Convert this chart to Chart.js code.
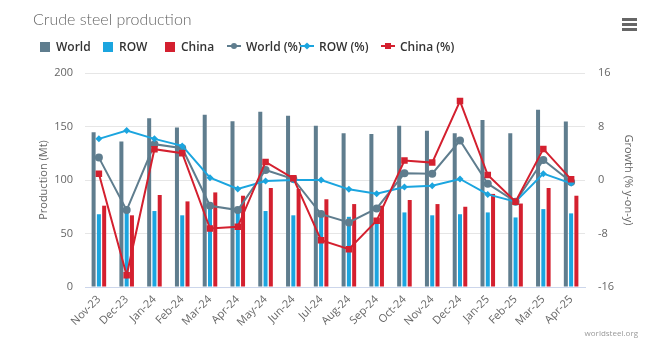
<!DOCTYPE html>
<html>
<head>
<meta charset="utf-8">
<script src="https://cdn.jsdelivr.net/npm/chart.js@4"></script>
<style>
  body { margin: 0; background: #fff; font-family: 'Open Sans', sans-serif; }
  #wrap { position: relative; width: 655px; height: 353px; }
  #title { position: absolute; left: 33px; top: 9px; font-family: Lato, sans-serif; font-size: 16px; font-weight: 300; color: #666; }
  #menu { position: absolute; left: 622px; top: 18px; width: 15px; }
  #menu div { height: 2.5px; background: #666; margin-bottom: 2.5px; }
  #legend { position: absolute; left: 40px; top: 39px; font-size: 12px; font-weight: 600; color: #333; white-space: nowrap; }
  .item { position: absolute; top: 0; line-height: 16px; }
  .sw { display: inline-block; width: 10px; height: 10px; vertical-align: -1px; margin-right: 6px; }
  .ln { display: inline-block; width: 14px; height: 2px; vertical-align: 4px; margin-right: 5px; position: relative; }
  .ln span { position: absolute; left: 4px; top: -2px; width: 6px; height: 6px; }
  #credit { position: absolute; right: 17px; top: 327px; font-size: 8px; color: #999; }
  canvas { position: absolute; left: 0; top: 0; }
</style>
</head>
<body>
<div id="wrap">
  <canvas id="steelChart" width="655" height="353"></canvas>
  <div id="title">Crude steel production</div>
  <div id="menu"><div></div><div></div><div></div></div>
  <div id="legend"></div>
  <div id="credit">worldsteel.org</div>
</div>
<script>
const months = ['Nov-23', 'Dec-23', 'Jan-24', 'Feb-24', 'Mar-24', 'Apr-24', 'May-24', 'Jun-24', 'Jul-24',
    'Aug-24', 'Sep-24', 'Oct-24', 'Nov-24', 'Dec-24', 'Jan-25', 'Feb-25', 'Mar-25', 'Apr-25'];

// production, Mt
const world = [144.7, 136, 157.8, 149, 161, 155, 163.8, 160, 150.6, 143.8, 143, 150.6, 146, 143.8, 156, 143.8, 165.6, 154.7];
const row = [68, 70, 71, 67, 73, 70, 71, 67, 68, 65.6, 63, 69.7, 67, 68, 69.7, 65, 72.8, 68.8];
const china = [76, 67, 86, 80, 88.4, 85.3, 92.5, 91.6, 82, 77.5, 76, 81.3, 77.5, 75, 87, 78, 92.5, 85.3];

// growth, % y-on-y
const worldPct = [3.35, -4.5, 5.35, 4.75, -3.85, -4.5, 1.5, 0.15, -5.1, -6.35, -4.25, 1.0, 0.95, 5.9, -0.55, -3.25, 3.0, -0.3];
const rowPct = [6.15, 7.4, 6.15, 5.1, 0.35, -1.35, -0.15, 0, 0, -1.4, -2.05, -1.05, -0.85, 0.15, -2.15, -3.25, 0.95, -0.5];
const chinaPct = [0.95, -14.25, 4.6, 4.0, -7.25, -7.0, 2.7, 0.25, -9.0, -10.35, -6.1, 2.9, 2.6, 11.8, 0.75, -3.25, 4.65, 0.1];

const GREY = '#5f7d8e';
const BLUE = '#1ba5df';
const RED = '#d4202f';
const FONT = "'Open Sans', sans-serif";

function barSet(label, data, color) {
    return {
        type: 'bar', label: label, data: data, yAxisID: 'y', order: 5,
        backgroundColor: color, borderWidth: 0,
        categoryPercentage: 0.57, barPercentage: 0.76
    };
}

function lineSet(label, data, color, style, radius, order) {
    return {
        type: 'line', label: label, data: data, yAxisID: 'y1', order: order,
        borderColor: color, backgroundColor: color, borderWidth: 2,
        pointStyle: style, pointRadius: radius, pointBorderWidth: 0, tension: 0
    };
}

const ctx = document.getElementById('steelChart').getContext('2d');
new Chart(ctx, {
    data: {
        labels: months,
        datasets: [
            barSet('World', world, GREY),
            barSet('ROW', row, BLUE),
            barSet('China', china, RED),
            lineSet('World (%)', worldPct, GREY, 'circle', 4, 3),
            lineSet('ROW (%)', rowPct, BLUE, 'rectRot', 3.5, 2),
            lineSet('China (%)', chinaPct, RED, 'rect', 4.6, 1)
        ]
    },
    options: {
        responsive: false,
        animation: false,
        layout: { padding: { left: 33, right: 16, top: 73, bottom: 0 } },
        plugins: { legend: { display: false }, tooltip: { enabled: false } },
        scales: {
            x: {
                grid: { display: false, drawTicks: false },
                border: { color: '#ccd6eb' },
                ticks: { color: '#666', font: { family: FONT, size: 11 }, minRotation: 45, maxRotation: 45, padding: 6 },
                afterFit: (scale) => { scale.height = 66; }
            },
            y: {
                position: 'left', min: 0, max: 200,
                ticks: { stepSize: 50, color: '#666', font: { family: FONT, size: 11 }, padding: 12 },
                grid: { color: '#e6e6e6', drawTicks: false },
                border: { display: false },
                title: { display: true, text: 'Production (Mt)', color: '#666', font: { family: FONT, size: 11 } },
                afterFit: (scale) => { scale.width = 52; }
            },
            y1: {
                position: 'right', min: -16, max: 16,
                ticks: { stepSize: 8, color: '#666', font: { family: FONT, size: 11 }, padding: 13 },
                grid: { display: false, drawTicks: false },
                border: { display: false },
                title: { display: true, text: 'Growth (% y-on-y)', color: '#666', font: { family: FONT, size: 11 } },
                afterFit: (scale) => { scale.width = 54; }
            }
        }
    }
});

// legend, drawn like the original
const legendItems = [
    { label: 'World', color: GREY, x: 0, kind: 'bar' },
    { label: 'ROW', color: BLUE, x: 63, kind: 'bar' },
    { label: 'China', color: RED, x: 125, kind: 'bar' },
    { label: 'World (%)', color: GREY, x: 187, kind: 'circle' },
    { label: 'ROW (%)', color: BLUE, x: 260, kind: 'diamond' },
    { label: 'China (%)', color: RED, x: 341, kind: 'square' }
];
const legend = document.getElementById('legend');
legendItems.forEach(it => {
    const el = document.createElement('div');
    el.className = 'item';
    el.style.left = it.x + 'px';
    let sym;
    if (it.kind === 'bar') {
        sym = `<span class="sw" style="background:${it.color}"></span>`;
    } else {
        let extra = '';
        if (it.kind === 'circle') extra = 'border-radius:50%;';
        if (it.kind === 'diamond') extra = 'transform:rotate(45deg) scale(0.85);';
        sym = `<span class="ln" style="background:${it.color}"><span style="background:${it.color};${extra}"></span></span>`;
    }
    el.innerHTML = sym + it.label;
    legend.appendChild(el);
});
</script>
</body>
</html>
